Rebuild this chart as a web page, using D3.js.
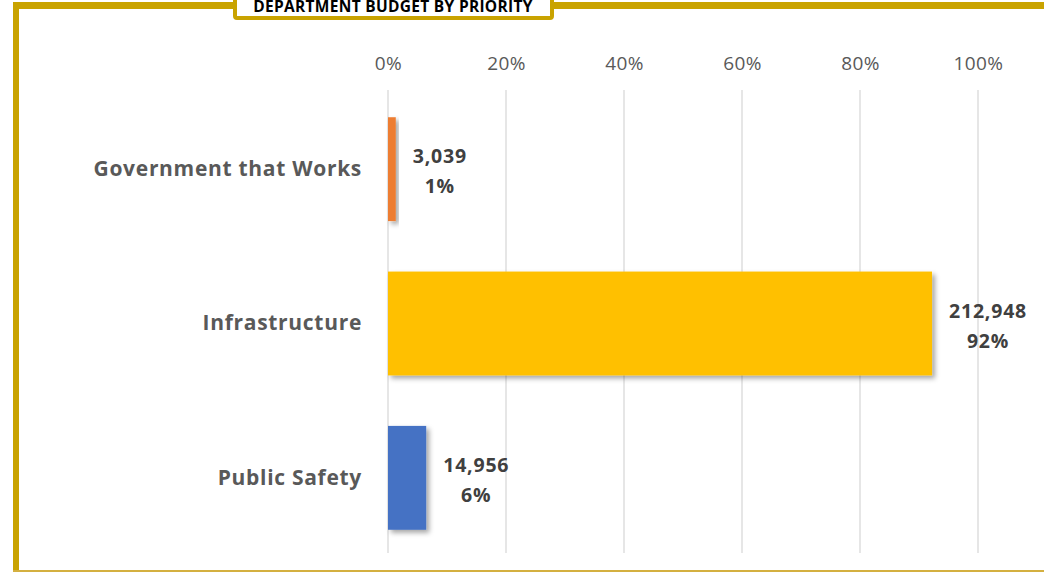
<!DOCTYPE html>
<html>
<head>
<meta charset="utf-8">
<script src="https://cdn.jsdelivr.net/npm/d3@7"></script>
<style>
  body { margin: 0; background: #fff; }
  svg { display: block; font-family: "Open Sans", "Liberation Sans", sans-serif; }
</style>
</head>
<body>
<svg width="1044" height="572"></svg>
<script>
// chart data
const categories = ['Government that Works', 'Infrastructure', 'Public Safety']
const budgets = [3039, 212948, 14956]
const percents = [1, 92, 6]
const colors = ['#ED7D31', '#FFC000', '#4472C4']
const tickValues = [0, 0.2, 0.4, 0.6, 0.8, 1]

const svg = d3.select('svg')
const width = +svg.attr('width')
const height = +svg.attr('height')
const gold = '#C9A300'

const total = d3.sum(budgets)
const data = categories.map((c, i) => ({
    name: c, value: budgets[i], pct: percents[i], color: colors[i]
}))

// shadow for the bars
const defs = svg.append('defs')
defs.append('filter').attr('id', 'shadow')
    .attr('x', '-20%').attr('y', '-20%').attr('width', '150%').attr('height', '150%')
  .append('feDropShadow')
    .attr('dx', 3).attr('dy', 3).attr('stdDeviation', 2.5)
    .attr('flood-color', '#000').attr('flood-opacity', 0.35)

// plot area
const margin = {top: 92, left: 388, right: 66, bottom: 17}
const innerHeight = height - margin.top - margin.bottom

const xScale = d3.scaleLinear().domain([0, 1]).range([0, 590])
const yScale = d3.scaleBand()
    .domain(categories)
    .range([0, innerHeight])
    .paddingInner(0.327)
    .paddingOuter(0.1635)

const g = svg.append('g')
    .attr('transform', `translate(${margin.left},${margin.top})`)

// gridlines
g.selectAll('.grid').data(tickValues)
  .enter().append('line')
    .attr('x1', d => xScale(d)).attr('x2', d => xScale(d))
    .attr('y1', -2).attr('y2', innerHeight - 2)
    .attr('stroke', '#D9D9D9').attr('stroke-width', 1.3)

// top axis labels
const xAxis = g.append('g')
    .call(d3.axisTop(xScale).tickValues(tickValues).tickFormat(d3.format('.0%')).tickSize(0).tickPadding(22))
xAxis.select('.domain').remove()
xAxis.selectAll('text')
    .attr('font-size', 19).attr('fill', '#595959')
    .attr('letter-spacing', 0.4)
    .attr('font-family', '"Open Sans", sans-serif')

// category labels
const yAxis = g.append('g')
    .call(d3.axisLeft(yScale).tickSize(0).tickPadding(26))
yAxis.select('.domain').remove()
yAxis.selectAll('text')
    .attr('font-size', 21).attr('font-weight', 'bold').attr('fill', '#595959')
    .attr('letter-spacing', 0.7)
    .attr('font-family', '"Open Sans", sans-serif')

// bars
g.selectAll('rect.bar').data(data)
  .enter().append('rect')
    .attr('class', 'bar')
    .attr('x', 0)
    .attr('y', d => yScale(d.name))
    .attr('width', d => xScale(d.value / total))
    .attr('height', yScale.bandwidth())
    .attr('fill', d => d.color)
    .attr('filter', 'url(#shadow)')

// data labels: value and percent
const fmt = d3.format(',')
const labels = g.selectAll('text.lbl').data(data)
  .enter().append('text')
    .attr('class', 'lbl')
    .attr('font-size', 19.5).attr('font-weight', 'bold').attr('fill', '#404040')
    .attr('letter-spacing', 0.8)
    .attr('text-anchor', 'middle')
labels.append('tspan').attr('class', 'v').text(d => fmt(d.value))
    .attr('y', d => yScale(d.name) + yScale.bandwidth() / 2 - 6)
labels.append('tspan').attr('class', 'p').text(d => d.pct + '%')
    .attr('y', d => yScale(d.name) + yScale.bandwidth() / 2 + 24)
labels.each(function(d) {
    const w = d3.select(this).select('.v').node().getComputedTextLength()
    const cx = xScale(d.value / total) + 17 + w / 2
    d3.select(this).selectAll('tspan').attr('x', cx)
})

// gold frame
svg.append('rect').attr('x', 13).attr('y', 2).attr('width', 6).attr('height', height)
    .attr('fill', gold)
svg.append('rect').attr('x', 13).attr('y', 2).attr('width', width).attr('height', 7)
    .attr('fill', gold)
svg.append('rect').attr('x', 13).attr('y', height - 2).attr('width', width).attr('height', 2)
    .attr('fill', '#D4B040')

// title box
svg.append('rect').attr('x', 235).attr('y', -6).attr('width', 317).attr('height', 24)
    .attr('fill', '#fff').attr('stroke', gold).attr('stroke-width', 4).attr('rx', 2)
svg.append('text').attr('x', 393).attr('y', 12)
    .attr('text-anchor', 'middle').attr('font-size', 15.5).attr('font-weight', 'bold')
    .attr('letter-spacing', 0.3)
    .attr('fill', '#000').text('DEPARTMENT BUDGET BY PRIORITY')
</script>
</body>
</html>
